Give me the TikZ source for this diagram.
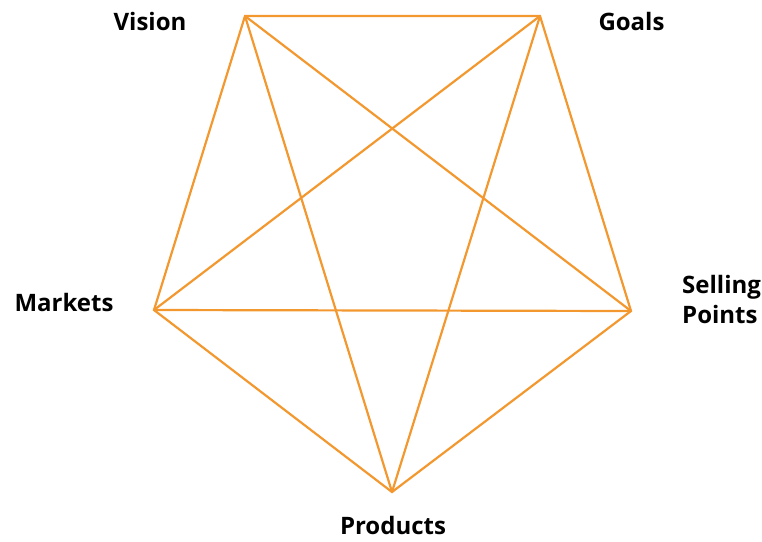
\documentclass[tikz,border=0pt]{standalone}
\usepackage{fontspec}
\setmainfont{Open Sans}
\definecolor{edgeorange}{RGB}{243,152,47}
\begin{document}
\begin{tikzpicture}[x=1pt,y=-1pt,
  edge/.style={draw=edgeorange,line width=2.2pt,line join=miter},
  lab/.style={inner sep=0pt,font=\bfseries\fontsize{24}{30}\selectfont,text=black}]
\useasboundingbox (0,0) rectangle (762,541);
\coordinate (V) at (245,16);
\coordinate (G) at (540,16);
\coordinate (S) at (631,311);
\coordinate (P) at (392,492);
\coordinate (M) at (154,310);
\draw[edge] (V) -- (G) -- (S) -- (P) -- (M) -- cycle;
\draw[edge] (V) -- (S);
\draw[edge] (V) -- (P);
\draw[edge] (G) -- (M);
\draw[edge] (G) -- (P);
\draw[edge] (M) -- (S);
\node[lab,anchor=base] (lv) at (150,30.5) {Vision};
\node[lab,anchor=base] (lg) at (631.5,30) {Goals};
\node[lab,anchor=base] (lm) at (64,311.5) {Markets};
\node[lab,anchor=north west,align=left] (ls) at (682,275) {Selling\\Points};
\node[lab,anchor=base] (lp) at (393,534) {Products};
\end{tikzpicture}
\end{document}
